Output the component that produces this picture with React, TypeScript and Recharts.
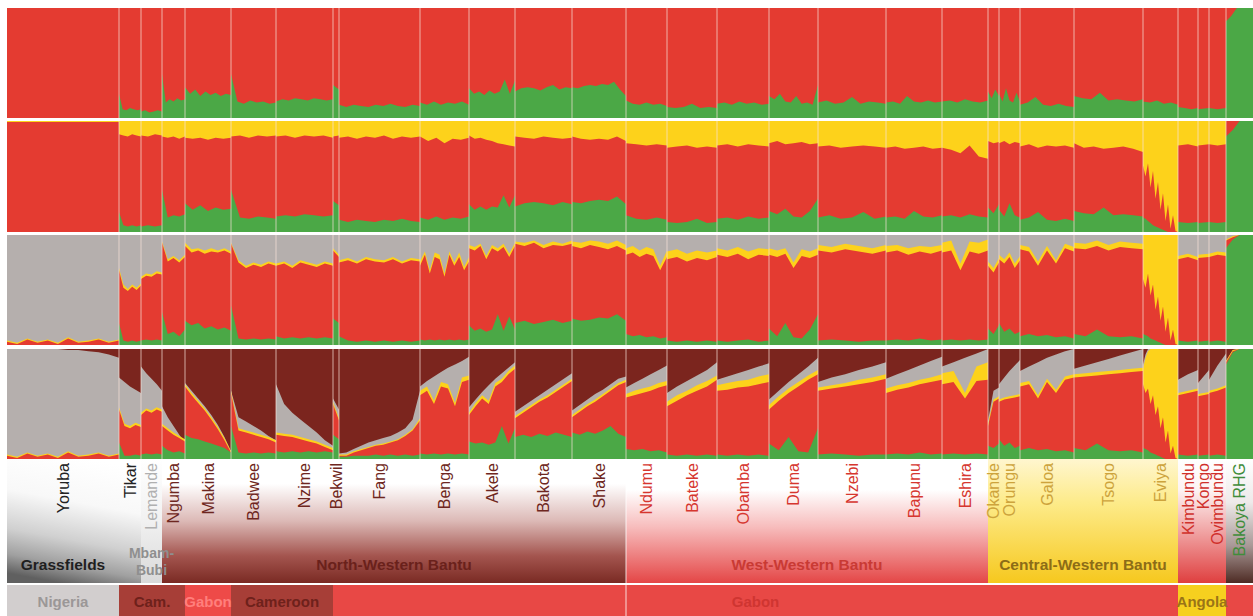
import React from 'react';
import {
  AreaChart,
  Area,
  ComposedChart,
  Line,
  XAxis,
  YAxis,
  ReferenceArea,
  ReferenceLine,
} from 'recharts';

// populations, left to right, with their width in the plot (samples)
const populations = [
  'Yoruba', 'Tikar', 'Lemande', 'Ngumba', 'Makina', 'Badwee', 'Nzime', 'Bekwil', 'Fang',
  'Benga', 'Akele', 'Bakota', 'Shake', 'Ndumu', 'Bateke', 'Obamba', 'Duma', 'Nzebi',
  'Bapunu', 'Eshira', 'Okande', 'Orungu', 'Galoa', 'Tsogo', 'Eviya', 'Kimbundu', 'Kongo',
  'Ovimbundu', 'Bakoya RHG',
];
const popSizes = [
  112, 22, 21, 23, 46, 45, 57, 6, 81, 49, 46, 57, 54, 41, 50, 52, 49, 68, 56, 46, 11, 21, 54,
  69, 35, 20, 11, 17, 27,
];

// K=2 : green share (%), rest red
const k2: number[][] = [
  [0, 0],
  [22, 8, 7, 9, 8, 7, 8],
  [6, 7, 5, 6, 7, 6],
  [40, 14, 17, 15, 18, 16, 17],
  [28, 22, 26, 20, 24, 21, 23, 20, 22, 21],
  [40, 15, 13, 16, 14, 15, 13, 14],
  [15, 17, 16, 18, 17, 16, 18, 17, 16, 17],
  [30, 26],
  [12, 10, 12, 11, 10, 12, 11, 13, 11, 10, 12, 11],
  [14, 12, 15, 12, 14, 13, 15, 12],
  [27, 22, 24, 21, 25, 22, 24, 35, 22, 34],
  [24, 27, 28, 27, 25, 28, 30, 26, 28, 27],
  [28, 27, 29, 30, 29, 31, 30, 33, 26, 20],
  [16, 13, 12, 14, 12, 13, 11],
  [10, 9, 10, 13, 9, 10, 9],
  [13, 14, 12, 15, 13, 14, 12, 13],
  [20, 17, 22, 15, 14, 20, 13, 14, 12, 30],
  [14, 16, 13, 14, 19, 13, 15, 14, 13],
  [14, 15, 13, 20, 15, 14, 16, 14, 15],
  [15, 16, 14, 17, 15, 14, 16],
  [24, 18, 26, 20],
  [22, 15, 27, 16, 14, 23, 15],
  [12, 14, 19, 12, 11, 13, 11, 10],
  [20, 18, 17, 23, 16, 17, 16, 15, 17],
  [15, 14, 16, 13, 14, 12],
  [10, 9, 8, 9],
  [8, 9],
  [9, 8, 9],
  [88, 93, 100, 100, 100, 100],
];

// K=3 : cumulative tops [green, red] (%), rest yellow
const k3: number[][][] = [
  [[0, 99], [0, 99]],
  [[18, 88], [6, 87], [5, 86], [6, 88], [5, 87], [6, 86]],
  [[5, 87], [6, 86], [5, 88], [6, 87]],
  [[38, 86], [13, 85], [15, 86], [14, 84], [16, 86]],
  [[26, 85], [20, 84], [24, 85], [19, 83], [22, 85], [20, 84], [21, 85]],
  [[38, 86], [13, 87], [12, 85], [14, 87], [13, 86], [12, 87]],
  [[14, 86], [15, 87], [14, 85], [16, 87], [15, 86], [14, 87], [15, 85]],
  [[28, 86], [24, 87]],
  [[11, 85], [9, 86], [11, 84], [10, 86], [9, 85], [11, 87], [10, 84], [12, 86], [10, 85], [9, 86]],
  [[13, 86], [11, 82], [14, 85], [11, 80], [13, 84], [12, 83], [14, 85]],
  [[25, 87], [20, 84], [23, 85], [20, 83], [23, 82], [22, 80], [33, 79], [22, 78], [33, 77]],
  [[23, 86], [26, 85], [27, 84], [26, 86], [24, 85], [27, 84], [25, 85]],
  [[27, 86], [26, 84], [28, 83], [29, 84], [28, 83], [32, 86], [25, 82]],
  [[15, 80], [12, 79], [11, 78], [13, 79], [11, 78]],
  [[9, 76], [8, 77], [9, 78], [12, 76], [8, 77], [9, 76]],
  [[12, 78], [13, 79], [11, 77], [14, 79], [12, 78], [13, 77]],
  [[19, 80], [16, 82], [21, 79], [14, 80], [13, 81], [19, 79], [30, 80]],
  [[13, 77], [15, 78], [12, 76], [13, 77], [18, 78], [12, 77], [14, 76]],
  [[13, 76], [14, 77], [12, 75], [19, 76], [14, 77], [13, 75], [15, 76]],
  [[14, 76], [15, 74], [13, 71], [16, 78], [14, 68], [13, 66]],
  [[22, 82], [17, 80], [25, 81]],
  [[20, 80], [14, 82], [26, 79], [15, 81], [13, 80]],
  [[11, 77], [13, 79], [18, 76], [11, 78], [10, 77], [12, 78], [10, 76]],
  [[19, 80], [17, 76], [16, 77], [22, 75], [15, 76], [16, 77], [15, 75], [14, 72]],
  [[13, 60], [12, 50], [10, 62], [8, 40], [6, 55], [5, 30], [4, 45], [3, 20], [2, 35], [1, 10], [0, 25], [0, 3], [0, 15], [0, 1], [0, 0]],
  [[9, 78], [8, 79], [9, 77]],
  [[8, 78], [9, 79]],
  [[9, 79], [8, 78], [9, 79]],
  [[86, 100], [92, 100], [100, 100], [100, 100], [100, 100]],
];

// K=4 : cumulative tops [green, red, yellow] (%), rest grey
const k4: number[][][] = [
  [[0, 3, 4], [0, 1, 2], [0, 5, 6], [0, 2, 3], [0, 4, 5], [0, 1, 2], [0, 6, 7], [0, 2, 3], [0, 3, 4], [0, 5, 6], [0, 2, 3], [0, 4, 5]],
  [[20, 68, 70], [4, 52, 55], [3, 49, 51], [4, 53, 55], [3, 50, 52], [4, 54, 56]],
  [[4, 60, 62], [5, 63, 65], [4, 62, 64], [5, 65, 67], [4, 64, 66]],
  [[30, 93, 94], [10, 76, 78], [12, 79, 81], [8, 75, 77], [14, 80, 82]],
  [[22, 90, 93], [18, 84, 87], [20, 86, 88], [15, 83, 86], [17, 85, 88], [14, 84, 86], [16, 86, 88], [13, 83, 85]],
  [[36, 92, 93], [6, 75, 77], [5, 70, 72], [6, 73, 75], [5, 71, 73], [6, 74, 76], [5, 72, 74]],
  [[8, 72, 74], [6, 74, 76], [7, 70, 72], [6, 75, 77], [7, 73, 75], [6, 71, 73], [7, 74, 76], [6, 72, 74]],
  [[24, 86, 88], [20, 80, 82]],
  [[8, 75, 77], [4, 77, 79], [3, 74, 76], [4, 78, 80], [3, 76, 78], [4, 75, 77], [3, 78, 80], [4, 74, 76], [3, 77, 79], [4, 76, 78]],
  [[5, 72, 76], [4, 82, 85], [5, 65, 68], [4, 80, 84], [5, 78, 82], [4, 62, 65], [5, 82, 85], [4, 72, 75], [5, 80, 84], [4, 68, 71], [5, 76, 80]],
  [[18, 88, 91], [13, 86, 89], [15, 90, 92], [12, 78, 81], [14, 88, 91], [28, 85, 88], [13, 89, 92], [26, 80, 83], [14, 90, 93]],
  [[20, 92, 94], [22, 90, 93], [19, 93, 95], [21, 88, 91], [23, 91, 94], [20, 90, 92], [22, 92, 95]],
  [[24, 90, 94], [22, 88, 93], [23, 91, 95], [25, 89, 94], [24, 87, 92], [28, 90, 95], [22, 86, 91]],
  [[10, 82, 88], [8, 84, 90], [9, 80, 86], [7, 83, 89], [8, 81, 87], [6, 68, 72], [7, 80, 86]],
  [[4, 78, 85], [3, 80, 87], [4, 76, 83], [3, 79, 86], [4, 77, 84], [3, 80, 86]],
  [[4, 82, 88], [3, 80, 86], [4, 83, 89], [5, 78, 85], [3, 82, 88], [4, 81, 87]],
  [[15, 82, 88], [8, 80, 86], [20, 83, 88], [7, 70, 75], [6, 81, 87], [14, 79, 85], [28, 82, 88]],
  [[4, 86, 91], [5, 84, 89], [4, 87, 92], [3, 85, 90], [4, 83, 88], [4, 86, 91]],
  [[4, 84, 90], [5, 86, 91], [4, 82, 88], [6, 85, 90], [4, 83, 89], [5, 86, 91]],
  [[4, 84, 93], [5, 86, 95], [4, 68, 74], [5, 85, 94], [4, 83, 93], [5, 86, 96]],
  [[15, 72, 76], [10, 66, 70], [18, 75, 79]],
  [[20, 78, 82], [12, 74, 78], [15, 80, 84], [10, 70, 74], [12, 77, 81]],
  [[8, 87, 91], [10, 85, 89], [8, 72, 76], [9, 86, 90], [7, 74, 77], [8, 88, 92], [6, 85, 89]],
  [[10, 88, 93], [8, 87, 92], [14, 90, 95], [8, 86, 91], [7, 89, 94], [8, 88, 93], [6, 87, 92]],
  [[10, 60, 100], [9, 52, 100], [8, 65, 100], [6, 45, 100], [5, 55, 100], [4, 32, 100], [3, 44, 100], [2, 22, 100], [1, 35, 100], [0, 12, 100], [0, 25, 100], [0, 4, 100], [0, 14, 100], [0, 1, 100], [0, 0, 100]],
  [[4, 78, 81], [3, 80, 83], [4, 77, 80]],
  [[3, 79, 82], [4, 80, 83]],
  [[3, 80, 83], [4, 82, 85], [3, 81, 84]],
  [[88, 95, 96], [96, 98, 99], [100, 100, 100], [100, 100, 100], [100, 100, 100]],
];

// K=5 : cumulative tops [green, red, yellow, grey] (%), rest brown
const k5: number[][][] = [
  [[0, 3, 4, 100], [0, 1, 2, 100], [0, 5, 6, 100], [0, 2, 3, 100], [0, 4, 5, 100], [0, 1, 2, 100], [0, 6, 7, 99], [0, 2, 3, 99], [0, 3, 4, 98], [0, 5, 6, 97], [0, 2, 3, 95], [0, 4, 5, 92]],
  [[15, 45, 47, 74], [3, 30, 32, 70], [3, 28, 30, 66], [4, 31, 33, 63], [3, 29, 31, 60]],
  [[4, 40, 42, 84], [5, 44, 46, 78], [4, 42, 44, 73], [5, 45, 47, 68], [4, 43, 45, 62]],
  [[12, 30, 32, 48], [8, 26, 28, 38], [6, 22, 24, 30], [7, 19, 21, 22], [5, 16, 18, 15]],
  [[22, 66, 68, 69], [19, 58, 60, 62], [18, 51, 53, 55], [16, 44, 46, 48], [14, 36, 38, 40], [12, 27, 29, 31], [10, 17, 19, 20], [6, 6, 7, 7]],
  [[30, 60, 62, 62], [6, 26, 28, 38], [5, 24, 26, 34], [6, 22, 24, 30], [5, 20, 22, 26], [6, 18, 20, 21], [5, 15, 17, 17]],
  [[7, 22, 24, 68], [6, 21, 23, 50], [7, 20, 22, 42], [6, 18, 20, 36], [7, 16, 18, 30], [6, 14, 16, 24], [7, 11, 13, 17], [6, 8, 10, 12]],
  [[22, 50, 52, 55], [18, 35, 37, 45]],
  [[2, 3, 4, 5], [2, 3, 4, 6], [3, 6, 7, 9], [3, 8, 9, 12], [3, 10, 11, 15], [4, 12, 13, 17], [3, 13, 14, 19], [4, 15, 16, 21], [3, 17, 18, 24], [4, 21, 22, 28], [3, 26, 27, 36], [4, 35, 37, 62]],
  [[5, 58, 62, 66], [4, 62, 66, 71], [5, 50, 53, 75], [4, 66, 70, 79], [5, 64, 68, 83], [4, 48, 51, 86], [5, 70, 74, 89], [4, 72, 76, 93]],
  [[16, 40, 42, 47], [14, 48, 51, 54], [15, 55, 58, 61], [13, 50, 53, 67], [15, 66, 69, 73], [30, 70, 73, 78], [14, 77, 80, 83], [28, 82, 85, 88]],
  [[20, 37, 39, 43], [22, 42, 44, 48], [20, 47, 49, 53], [23, 52, 54, 58], [21, 56, 58, 63], [24, 61, 63, 68], [22, 66, 68, 73], [20, 71, 73, 78]],
  [[24, 38, 40, 44], [22, 43, 45, 49], [25, 48, 50, 54], [23, 52, 54, 59], [26, 57, 59, 63], [30, 62, 64, 68], [23, 67, 69, 73], [20, 70, 72, 75]],
  [[9, 56, 59, 65], [8, 58, 62, 69], [9, 60, 64, 73], [7, 62, 66, 77], [8, 65, 69, 81], [6, 67, 71, 85]],
  [[4, 48, 52, 60], [3, 53, 58, 66], [4, 58, 62, 71], [3, 62, 67, 76], [4, 66, 71, 81], [3, 72, 76, 88]],
  [[4, 62, 67, 72], [3, 63, 69, 75], [4, 65, 71, 78], [3, 66, 72, 81], [4, 68, 75, 84], [3, 70, 77, 87]],
  [[14, 45, 49, 54], [8, 53, 57, 62], [20, 60, 64, 70], [7, 66, 70, 77], [6, 72, 76, 84], [28, 77, 81, 92]],
  [[4, 62, 65, 70], [5, 64, 67, 74], [4, 66, 69, 77], [3, 68, 72, 81], [4, 70, 74, 84], [4, 73, 77, 88]],
  [[4, 60, 64, 73], [5, 63, 67, 77], [4, 65, 69, 81], [6, 68, 72, 85], [4, 70, 74, 89], [5, 72, 77, 93]],
  [[4, 68, 78, 84], [5, 70, 80, 88], [4, 55, 60, 92], [5, 71, 84, 96], [4, 72, 88, 100]],
  [[12, 30, 32, 35], [10, 52, 54, 62], [14, 55, 57, 65]],
  [[18, 52, 54, 68], [12, 54, 56, 74], [15, 55, 57, 80], [10, 56, 58, 85], [12, 57, 59, 90]],
  [[8, 66, 69, 80], [10, 68, 71, 84], [8, 55, 58, 88], [9, 70, 73, 92], [7, 60, 63, 95], [8, 72, 75, 98], [6, 74, 77, 100]],
  [[10, 74, 77, 82], [8, 75, 78, 85], [14, 76, 79, 88], [8, 77, 80, 91], [7, 78, 81, 94], [8, 79, 82, 97], [6, 80, 83, 100]],
  [[10, 68, 82, 86], [9, 60, 92, 95], [8, 64, 98, 100], [6, 50, 100, 100], [5, 58, 100, 100], [4, 40, 100, 100], [3, 48, 100, 100], [2, 28, 100, 100], [1, 38, 100, 100], [0, 15, 100, 100], [0, 26, 100, 100], [0, 5, 100, 100], [0, 12, 100, 100], [0, 1, 100, 100], [0, 0, 100, 100]],
  [[4, 58, 60, 72], [3, 60, 62, 77], [4, 62, 64, 81]],
  [[3, 57, 59, 69], [4, 59, 61, 81]],
  [[3, 60, 62, 72], [4, 62, 64, 85], [3, 65, 67, 96]],
  [[86, 88, 89, 89], [97, 98, 99, 99], [100, 100, 100, 100], [100, 100, 100, 100], [100, 100, 100, 100]],
];

// linguistic groups [label, first pop, last pop]
const groupLabels: [string, number, number][] = [
  ['Grassfields', 0, 0],
  ['Mbam-|Bubi', 2, 2],
  ['North-Western Bantu', 3, 12],
  ['West-Western Bantu', 13, 19],
  ['Central-Western Bantu', 20, 24],
];
// countries [label, first pop, last pop]
const countries: [string, number, number][] = [
  ['Nigeria', 0, 0],
  ['Cam.', 1, 3],
  ['Gabon', 4, 4],
  ['Cameroon', 5, 6],
  ['Gabon', 7, 24],
  ['Angola', 25, 27],
  ['', 28, 28],
];

const RED = '#e43b31';
const GREEN = '#4ba846';
const YELLOW = '#fdd21b';
const GREY = '#b5afad';
const BROWN = '#7b251e';
const FONT = "'Liberation Sans', Arial, sans-serif";

const W = 1246;
const starts: number[] = [];
const total = popSizes.reduce((acc, s) => {
  starts.push(acc);
  return acc + s;
}, 0);
const boundaries = starts.slice(1);
const mid = (a: number, b: number) => (starts[a] + starts[b] + popSizes[b]) / 2;

type Row = { x: number; [k: string]: number };
const toRows = (profiles: number[][][], keys: string[]): Row[] => {
  const rows: Row[] = [];
  profiles.forEach((list, p) => {
    const step = popSizes[p] / (list.length - 1);
    list.forEach((vals, i) => {
      const row: Row = { x: starts[p] + i * step };
      keys.forEach((k, j) => {
        row[k] = vals[j];
      });
      rows.push(row);
    });
  });
  return rows;
};

const panels = [
  { top: 8, height: 110, rest: RED, rows: toRows(k2.map((l) => l.map((v) => [v])), ['green']), layers: [['green', GREEN]] },
  { top: 121, height: 111, rest: YELLOW, rows: toRows(k3, ['green', 'red']), layers: [['red', RED], ['green', GREEN]] },
  { top: 235, height: 110, rest: GREY, rows: toRows(k4, ['green', 'red', 'yellow']), layers: [['yellow', YELLOW], ['red', RED], ['green', GREEN]] },
  { top: 349, height: 110, rest: BROWN, rows: toRows(k5, ['green', 'red', 'yellow', 'grey']), layers: [['grey', GREY], ['yellow', YELLOW], ['red', RED], ['green', GREEN]] },
];

// label area styling
const regionBands = [
  { from: 0, to: 1, id: 'gGrass', dir: ['0.6', '0', '0.4', '1'], stops: [[0, '#ffffff'], [0.35, '#f8f8f8'], [0.65, '#d0d0d0'], [0.85, '#a0a0a0'], [1, '#606060']], text: '#222222' },
  { from: 2, to: 2, id: 'gMbam', dir: ['0', '0', '0', '1'], stops: [[0, '#ffffff'], [0.5, '#f1f1f1'], [1, '#d9d9d9']], text: '#b0b0b0' },
  { from: 3, to: 12, id: 'gNW', dir: ['0', '0', '0', '1'], stops: [[0, '#ffffff'], [0.2, '#ffffff'], [0.5, '#dcb9b6'], [0.78, '#a4554f'], [1, '#7a2a23']], text: '#6e2620' },
  { from: 13, to: 19, id: 'gWW', dir: ['0', '0', '0', '1'], stops: [[0, '#ffffff'], [0.25, '#ffffff'], [0.55, '#f7bcbc'], [1, '#e44646']], text: '#d6362f' },
  { from: 20, to: 24, id: 'gCW', dir: ['0', '0', '0', '1'], stops: [[0, '#fff6cf'], [0.35, '#fdeb8a'], [1, '#f6c81e']], text: '#cda33c' },
  { from: 25, to: 27, id: 'gSW', dir: ['0', '0', '0', '1'], stops: [[0, '#ffffff'], [0.25, '#fdf3f3'], [0.6, '#f0a0a0'], [1, '#df3f3f']], text: '#d0302b' },
  { from: 28, to: 28, id: 'gRHG', dir: ['0', '0', '0', '1'], stops: [[0, '#ffffff'], [0.35, '#eeeaea'], [0.7, '#a89896'], [1, '#4e2b24']], text: '#3f8d3a' },
];
const groupColors = ['#1f1f1f', '#8f8f8f', '#6a211b', '#c93a34', '#8c6c17'];
const countryStyle = [
  ['#d2cece', '#9b9797'],
  ['#a73e37', '#6e211b'],
  ['#ee4a48', '#ff7f7c'],
  ['#a73e37', '#6e211b'],
  ['#e84845', '#cf3531'],
  ['#f6d01f', '#9a7417'],
  ['#e84845', '#cf3531'],
];
const popColor = (i: number) => regionBands.find((b) => i >= b.from && i <= b.to)!.text;

const labelRows = [{ x: 0, y: 0 }, { x: total, y: 0 }];

export default function App() {
  return (
    <div style={{ position: 'absolute', left: 0, top: 0, width: 1253, height: 616, background: '#fff', overflow: 'hidden' }}>
      {panels.map((p, pi) => (
        <div key={pi} style={{ position: 'absolute', left: 7, top: p.top }}>
          <AreaChart width={W} height={p.height} data={p.rows} margin={{ top: 0, right: 0, bottom: 0, left: 0 }}>
            <XAxis type="number" dataKey="x" domain={[0, total]} hide />
            <YAxis type="number" domain={[0, 100]} hide />
            <Area type="linear" dataKey={() => 100} fill={p.rest} fillOpacity={1} stroke="none" dot={false} activeDot={false} isAnimationActive={false} />
            {p.layers.map(([k, c]) => (
              <Area key={k} type="linear" dataKey={k} fill={c} fillOpacity={1} stroke="none" dot={false} activeDot={false} isAnimationActive={false} />
            ))}
            {boundaries.map((b) => (
              <ReferenceLine key={b} x={b} stroke="#f8e2da" strokeOpacity={0.7} strokeWidth={1} />
            ))}
          </AreaChart>
        </div>
      ))}

      <div style={{ position: 'absolute', left: 7, top: 459 }}>
        <ComposedChart width={W} height={157} data={labelRows} margin={{ top: 0, right: 0, bottom: 0, left: 0 }}>
          <defs>
            {regionBands.map((b) => (
              <linearGradient key={b.id} id={b.id} x1={b.dir[0]} y1={b.dir[1]} x2={b.dir[2]} y2={b.dir[3]}>
                {b.stops.map(([o, c], i) => (
                  <stop key={i} offset={o as number} stopColor={c as string} />
                ))}
              </linearGradient>
            ))}
          </defs>
          <XAxis type="number" dataKey="x" domain={[0, total]} hide />
          <YAxis type="number" domain={[0, 157]} reversed hide />
          {regionBands.map((b) => (
            <ReferenceArea key={b.id} x1={starts[b.from]} x2={starts[b.to] + popSizes[b.to]} y1={0} y2={124} fill={`url(#${b.id})`} fillOpacity={1} stroke="none" />
          ))}
          {countries.map(([, a, b], i) => (
            <ReferenceArea key={'c' + i} x1={starts[a]} x2={starts[b] + popSizes[b]} y1={126} y2={157} fill={countryStyle[i][0]} fillOpacity={1} stroke="none" />
          ))}
          <ReferenceLine x={starts[13]} stroke="#ffffff" strokeOpacity={0.8} strokeWidth={1} />
          {populations.map((name, i) => (
            <ReferenceLine
              key={name}
              x={starts[i] + popSizes[i] / 2}
              stroke="none"
              label={(lp: any) =>
                lp.viewBox ? (
                  <text
                    x={lp.viewBox.x}
                    y={lp.viewBox.y + 4}
                    dy="0.36em"
                    transform={`rotate(-90 ${lp.viewBox.x} ${lp.viewBox.y + 4})`}
                    textAnchor="end"
                    fontFamily={FONT}
                    fontSize={16}
                    fill={popColor(i)}
                  >
                    {name}
                  </text>
                ) : null
              }
            />
          ))}
          {groupLabels.map(([name, a, b], i) => {
            const twoLines = name.includes('|');
            return (
              <ReferenceLine
                key={name}
                x={mid(a, b)}
                stroke="none"
                label={(lp: any) =>
                  lp.viewBox ? (
                    <text
                      x={lp.viewBox.x}
                      y={lp.viewBox.y + (twoLines ? 99 : 111)}
                      textAnchor="middle"
                      fontFamily={FONT}
                      fontSize={twoLines ? 14 : 15.5}
                      fontWeight="bold"
                      fill={groupColors[i]}
                    >
                      {name.split('|').map((t, j) => (
                        <tspan key={j} x={lp.viewBox.x} dy={j === 0 ? 0 : 16.5}>
                          {t}
                        </tspan>
                      ))}
                    </text>
                  ) : null
                }
              />
            );
          })}
          {countries.map(([name, a, b], i) =>
            name ? (
              <ReferenceLine
                key={'cl' + i}
                x={mid(a, b)}
                stroke="none"
                label={(lp: any) =>
                  lp.viewBox ? (
                    <text x={lp.viewBox.x} y={lp.viewBox.y + 148} textAnchor="middle" fontFamily={FONT} fontSize={15} fontWeight="bold" fill={countryStyle[i][1]}>
                      {name}
                    </text>
                  ) : null
                }
              />
            ) : null
          )}
          <Line dataKey="y" stroke="none" dot={false} activeDot={false} isAnimationActive={false} />
        </ComposedChart>
      </div>
    </div>
  );
}
